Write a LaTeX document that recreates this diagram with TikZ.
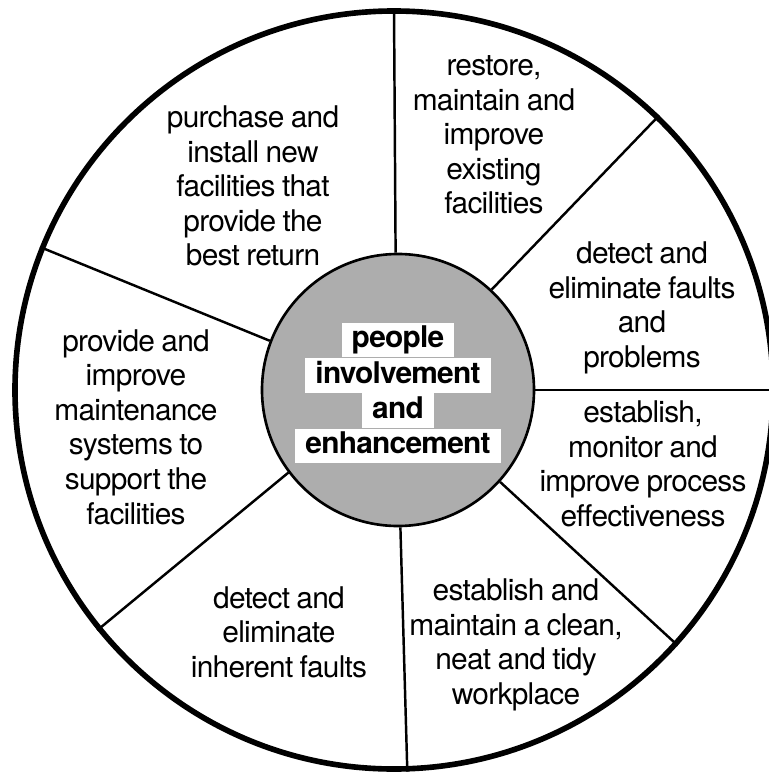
\documentclass[tikz,border=0pt]{standalone}
\usepackage{fontspec}
\setmainfont{TeX Gyre Heros}[LetterSpace=-2.5,WordSpace=0.85]
\usetikzlibrary{positioning}

\begin{document}
\begin{tikzpicture}
[x=0.2mm,y=-0.2mm,
 wheel/.style={shape=circle,draw,line width=3.2pt,inner sep=0pt,minimum size=15.16cm},
 hubdisc/.style={shape=circle,draw,line width=1.5pt,fill=black!32,inner sep=0pt,minimum size=5.44cm},
 spoke/.style={line width=1.4pt},
 task/.style={align=center,font=\fontsize{17}{19.7}\selectfont},
 hubline/.style={fill=white,inner xsep=0.2cm,inner ysep=1.85pt,text height=12.5pt,text depth=3.5pt,
   font=\fontsize{17}{19.7}\selectfont\bfseries}]

\useasboundingbox (0,0) rectangle (769,773);

\draw (394,390) node (rim) [wheel] {};
\draw (398,390) node (hub) [hubdisc] {};

% spokes, hub to rim
\draw [spoke] (hub.91) -- (rim.90);
\draw [spoke] (hub.47) -- (rim.46);
\draw [spoke] (hub.0) -- (rim.0);
\draw [spoke] (hub.-42) -- (rim.-42.5);
\draw [spoke] (hub.-89) -- (rim.-88.5);
\draw [spoke] (hub.217) -- (rim.219);
\draw [spoke] (hub.159) -- (rim.158.4);

% text in the hub
\node (people) [hubline] at (398,340) {people};
\node (involvement) [hubline,below=0pt of people] {involvement};
\node (and) [hubline,below=0pt of involvement] {and};
\node (enhancement) [hubline,below=0pt of and] {enhancement};

% segments
\node (purchase) [task] at (253,186) {purchase and\\install new\\facilities that\\provide the\\best return};
\node (restore) [task] at (494,135) {restore,\\maintain and\\improve\\existing\\facilities};
\node (faults) [task] at (642,308) {detect and\\eliminate faults\\and\\problems};
\node (process) [task] at (643,464) {establish,\\monitor and\\improve process\\effectiveness};
\node (workplace) [task] at (516,645) {establish and\\maintain a clean,\\neat and tidy\\workplace};
\node (inherent) [task] at (279,632) {detect and\\eliminate\\inherent faults};
\node (systems) [task] at (136,427) {provide and\\improve\\maintenance\\systems to\\support the\\facilities};

\end{tikzpicture}
\end{document}
